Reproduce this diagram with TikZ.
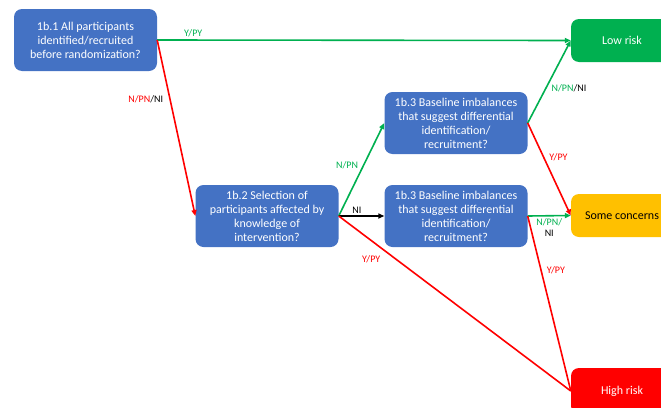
\documentclass[tikz,border=0pt]{standalone}
\usepackage{fontspec}
\setmainfont{Carlito}
\usetikzlibrary{arrows.meta}
\definecolor{boxblue}{HTML}{4472C4}
\definecolor{lowgreen}{HTML}{00B050}
\definecolor{midyellow}{HTML}{FFC000}
\definecolor{highred}{HTML}{FF0000}
\begin{document}
\begin{tikzpicture}[x=1pt,y=-1pt,
	question/.style={fill=boxblue,text=white,rounded corners=8pt,minimum width=143pt,minimum height=62pt,align=center,font=\fontsize{12}{14}\selectfont,inner sep=2pt},
	outcome/.style={rounded corners=8pt,minimum width=102pt,minimum height=43pt,font=\fontsize{12}{14}\selectfont},
	lbl/.style={font=\fontsize{10}{11}\selectfont,inner sep=2pt},
	yes/.style={draw=highred,line width=1.6pt},
	no/.style={draw=lowgreen,line width=1.6pt},
	tip/.style={-{Triangle[length=6pt,width=5pt]}}]
	\useasboundingbox (0,0) rectangle (661,407);

	% questions
	\node[question] (q1) at (85.5,40) {1b.1 All participants\\identified/recruited\\before randomization?};
	\node[question] (q2) at (267,216) {1b.2 Selection of\\participants affected by\\knowledge of\\intervention?};
	\node[question] (q3a) at (456,123) {1b.3 Baseline imbalances\\that suggest differential\\identification/\\recruitment?};
	\node[question] (q3b) at (456,216) {1b.3 Baseline imbalances\\that suggest differential\\identification/\\recruitment?};

	% judgements
	\node[outcome,fill=lowgreen,text=white] (low) at (622,40.5) {Low risk};
	\node[outcome,fill=midyellow,text=black] (some) at (622,215.5) {Some concerns};
	\node[outcome,fill=highred,text=white,minimum height=46pt] (high) at (622,391) {High risk};

	\draw[no,tip] (q1.east) -- node[lbl,pos=0.087,above,text=lowgreen] {Y/PY} (low.west);
	\draw[yes,tip] (q1.east) -- node[lbl,pos=0.335,left=4pt] {\textcolor{highred}{N/PN}/NI} (q2.west);

	\draw[no,tip] (q2.east) -- node[lbl,pos=0.55,left=3pt,text=lowgreen] {N/PN} (q3a.west);
	\draw[line width=1.6pt,tip] (q2.east) -- node[lbl,pos=0.4,above] {NI} (q3b.west);
	\draw[yes] (q2.east) -- node[lbl,pos=0.2,below left=2pt,text=highred] {Y/PY} (high.west);

	\draw[no,tip] (q3a.east) -- node[lbl,pos=0.42,right=3pt] {\textcolor{lowgreen}{N/PN}/NI} (low.west);
	\draw[yes,tip] (q3a.east) -- node[lbl,pos=0.37,right=3pt,text=highred] {Y/PY} (some.west);

	\draw[no,tip] (q3b.east) -- node[lbl,pos=0.5,below,align=center] {\textcolor{lowgreen}{N/PN/}\\NI} (some.west);
	\draw[yes] (q3b.east) -- node[lbl,pos=0.31,right=3pt,text=highred] {Y/PY} (high.west);
\end{tikzpicture}
\end{document}
